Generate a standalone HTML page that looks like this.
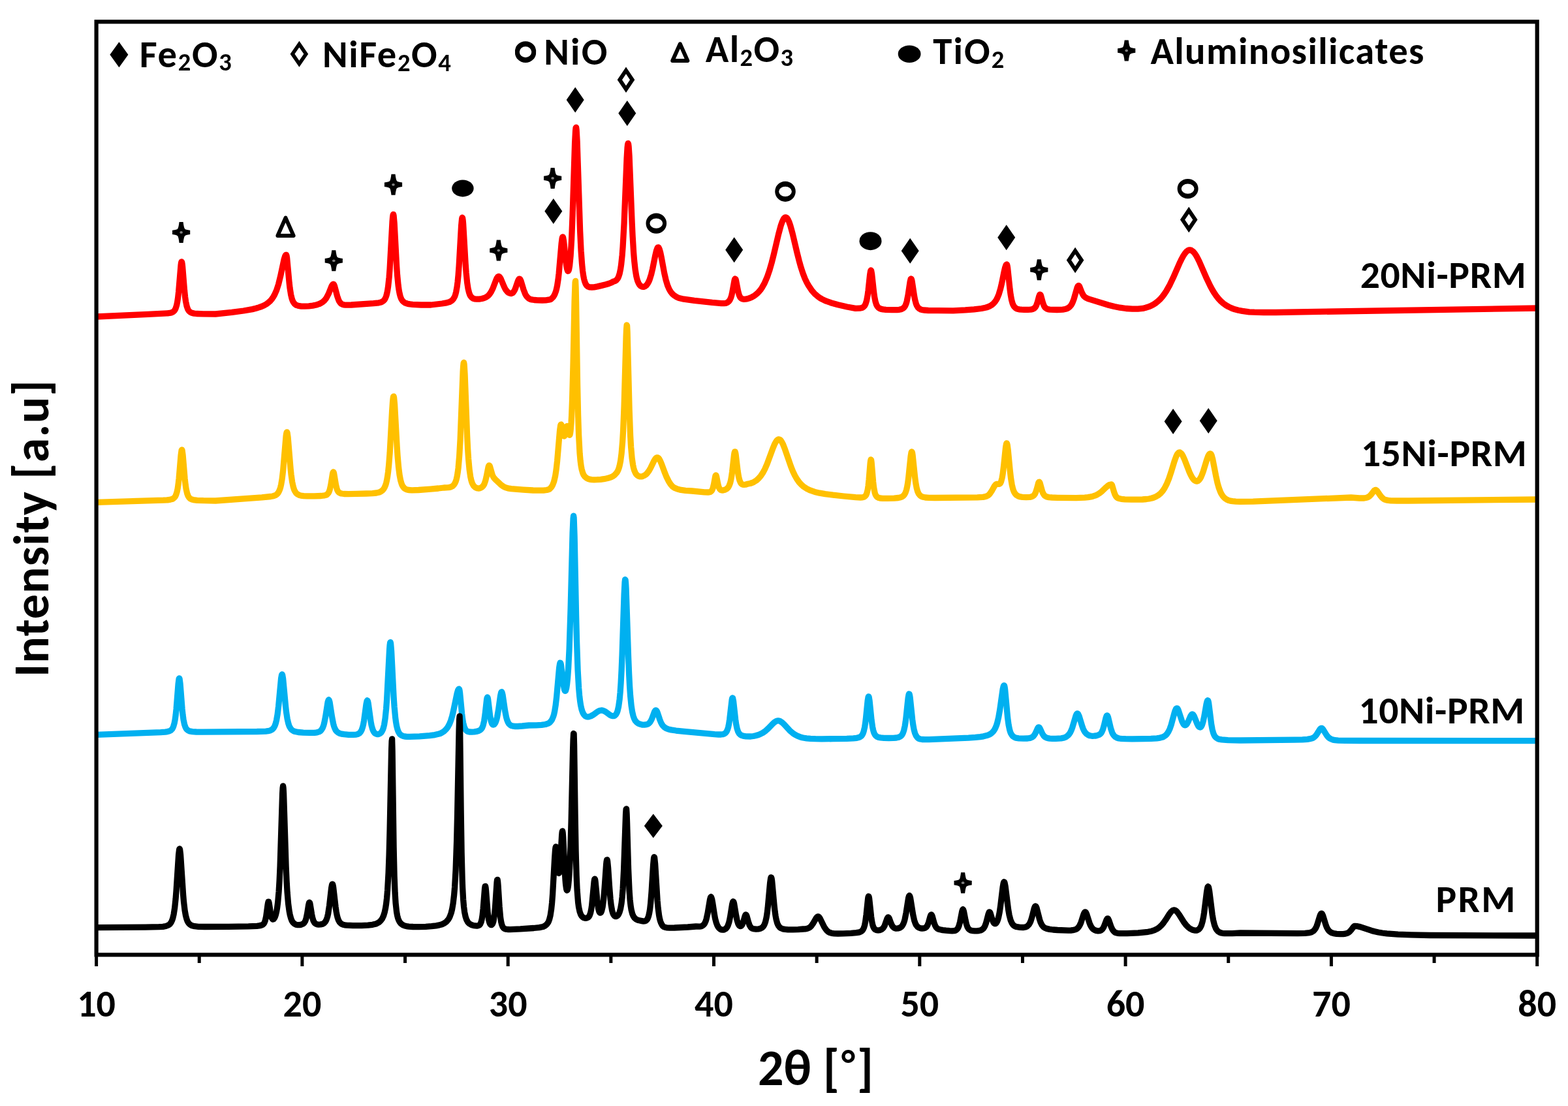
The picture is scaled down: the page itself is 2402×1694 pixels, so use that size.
<!DOCTYPE html>
<html><head><meta charset="utf-8"><title>XRD patterns</title>
<style>
html,body{margin:0;padding:0;background:#fff;}
svg{display:block;}
text{font-family:Carlito,"Liberation Sans","DejaVu Sans",sans-serif;font-weight:bold;fill:#000;}
.curves path{fill:none;stroke-width:9.3;stroke-linejoin:round;stroke-linecap:butt;}
.fd{fill:#000;}
.od{fill:none;stroke:#000;stroke-width:6;stroke-linejoin:miter;stroke-miterlimit:10;}
.tr{fill:none;stroke:#000;stroke-width:7;stroke-linejoin:round;}
.oc{fill:#000;fill-rule:evenodd;}
</style></head>
<body>
<svg xmlns="http://www.w3.org/2000/svg" width="2402" height="1694" viewBox="0 0 2402 1694">
<defs>
<g id="star"><path d="M-3 -16L3 -16Q4.2 -6.5 5.5 -5.5Q6.5 -4.2 13.6 -3.2L13.6 3.2Q6.5 4.2 5.5 5.5Q4.2 6.5 3 16L-3 16Q-4.2 6.5 -5.5 5.5Q-6.5 4.2 -13.6 3.2L-13.6 -3.2Q-6.5 -4.2 -5.5 -5.5Q-4.2 -6.5 -3 -16Z" fill="#000"/><ellipse rx="2.3" ry="1.9" fill="#808080"/></g>
</defs>
<rect x="0" y="0" width="2402" height="1694" fill="#fff"/>
<g class="curves">
<path d="M147.6 485.0L226.6 481.4 256.6 479.8 261.6 479.2 263.6 478.5 265.1 477.7 267.1 475.9 268.1 474.4 269.1 472.4 270.6 467.7 271.6 462.9 272.6 456.2 273.6 447.2 277.1 405.6 277.6 402.3 278.1 400.9 278.6 401.5 279.1 404.1 279.6 408.4 282.6 445.3 283.6 454.8 284.6 461.9 286.1 469.0 287.6 473.3 288.6 475.2 289.6 476.5 291.6 478.2 293.1 479.0 295.1 479.6 297.6 480.1 301.1 480.5 311.6 480.8 330.1 481.0 355.1 478.4 373.1 476.0 386.6 473.6 392.1 472.3 396.6 470.9 400.6 469.5 404.6 467.7 408.1 465.7 411.1 463.5 413.6 461.3 416.1 458.5 418.6 454.9 420.6 451.4 423.6 444.6 426.6 435.4 429.6 423.2 435.1 397.4 436.6 392.6 437.6 390.8 438.1 390.3 438.6 390.4 439.1 391.9 439.6 395.0 443.1 432.9 444.1 441.6 445.6 451.1 447.1 457.3 448.1 460.2 449.1 462.3 451.1 465.2 452.6 466.5 454.1 467.4 457.1 468.4 461.6 469.1 466.6 469.2 473.1 468.8 479.1 468.1 484.6 467.0 488.6 465.7 492.1 464.0 494.6 462.3 496.6 460.6 498.6 458.3 500.1 456.1 503.1 450.4 508.1 438.1 509.6 435.8 510.6 435.2 511.1 435.4 511.6 436.0 512.6 438.4 516.6 453.5 518.6 459.3 519.6 461.4 521.1 463.6 522.6 465.1 524.6 466.2 526.6 466.8 529.6 467.2 538.1 467.0 572.1 464.7 580.1 463.8 583.6 463.0 585.6 462.1 587.6 460.6 589.1 458.9 590.6 456.2 591.6 453.6 592.6 450.1 593.6 445.3 594.6 438.8 596.1 424.7 597.1 411.5 601.1 338.6 601.6 332.7 602.1 329.1 602.6 328.3 603.1 330.3 604.1 341.6 607.6 407.3 608.6 421.5 610.1 437.0 611.1 444.2 612.1 449.5 613.1 453.4 614.1 456.3 615.1 458.5 616.6 460.8 618.1 462.3 620.1 463.7 622.1 464.6 624.6 465.3 628.1 465.9 632.1 466.3 645.1 467.0 660.1 467.0 677.1 465.0 682.1 464.2 685.6 463.4 688.6 462.5 691.1 461.2 693.1 459.6 694.6 457.8 696.6 454.1 697.6 451.3 698.6 447.6 700.1 439.4 701.1 431.5 702.1 421.1 703.1 407.7 706.6 345.8 707.6 335.1 708.1 333.2 708.6 333.9 709.1 337.2 709.6 342.7 713.1 403.5 714.1 417.4 715.6 432.5 717.1 442.2 718.6 448.3 719.6 451.1 720.6 453.1 722.6 455.7 724.6 457.0 727.1 457.9 730.1 458.2 734.1 458.1 738.1 457.5 741.6 456.5 744.6 455.2 747.1 453.5 748.6 452.1 750.1 450.4 752.6 446.6 755.1 441.4 759.6 429.6 761.1 426.2 762.6 424.0 763.6 423.4 764.1 423.4 764.6 423.5 765.6 424.4 767.1 426.8 772.1 438.7 773.6 441.8 775.1 444.3 777.6 447.3 779.1 448.4 780.6 449.1 782.6 449.6 784.1 449.3 785.6 448.4 787.1 446.6 788.6 443.9 789.6 441.5 793.1 431.2 794.1 428.8 795.1 427.3 795.6 427.1 796.1 427.1 797.1 428.3 798.1 430.5 802.1 443.9 804.6 450.3 805.6 452.2 807.1 454.3 808.6 455.9 810.1 457.1 812.1 458.2 814.6 458.9 818.6 459.5 823.6 459.9 830.6 460.0 836.1 459.8 840.6 459.2 843.6 458.4 845.1 457.3 847.1 455.3 848.6 453.1 849.6 451.3 851.6 446.1 852.6 442.3 853.6 437.5 855.1 427.7 856.1 419.0 860.1 373.1 861.1 365.3 861.6 363.4 862.1 362.8 862.6 363.7 863.6 369.3 866.6 398.5 867.6 406.4 868.6 411.9 869.6 414.9 870.1 415.3 870.6 415.1 871.1 414.2 871.6 412.6 872.6 407.0 874.1 391.8 875.6 366.5 877.1 329.3 880.6 219.2 881.6 200.0 882.1 195.6 882.6 195.2 883.1 198.7 884.1 216.6 888.6 353.3 890.1 384.3 891.6 405.1 892.6 414.8 893.6 421.9 894.6 427.1 895.6 430.9 897.1 434.8 898.6 437.2 900.6 438.9 903.1 439.8 906.6 440.0 910.1 439.8 915.1 438.9 921.6 437.4 928.1 435.8 933.1 434.2 937.1 432.6 940.1 430.9 942.1 430.4 944.1 429.2 946.1 426.8 947.6 423.8 949.1 419.2 950.6 412.1 951.6 405.4 953.1 391.2 954.1 378.2 956.1 341.7 960.1 242.7 961.1 226.1 961.6 221.5 962.1 219.6 962.6 220.6 963.1 224.4 964.1 239.6 968.1 340.2 969.1 361.5 970.6 386.5 971.6 399.0 973.1 412.8 974.6 422.1 975.6 426.5 976.6 429.9 978.1 433.6 979.6 436.1 981.6 438.1 983.6 439.1 984.6 439.3 986.1 439.3 988.1 438.6 990.1 437.1 992.1 434.5 993.6 431.8 995.1 428.3 997.6 420.4 999.6 412.0 1003.6 392.1 1005.6 383.6 1007.1 379.8 1007.6 379.1 1008.1 378.8 1008.6 378.9 1009.1 379.4 1010.1 381.3 1011.6 386.5 1013.1 393.7 1017.6 418.0 1020.1 428.9 1022.6 437.1 1025.1 443.0 1027.1 446.4 1029.1 449.1 1031.1 451.1 1033.6 453.1 1036.6 454.9 1040.1 456.4 1047.6 458.2 1063.6 460.4 1091.1 463.4 1105.1 464.6 1109.1 464.6 1112.1 464.4 1114.6 463.1 1116.6 461.4 1118.1 459.4 1119.6 456.1 1120.6 452.9 1121.6 448.7 1125.1 429.3 1125.6 427.7 1126.1 427.0 1126.6 427.2 1127.1 428.2 1127.6 430.0 1130.6 445.8 1132.1 451.4 1133.6 454.8 1134.6 456.2 1135.6 457.0 1137.6 458.0 1139.6 458.3 1142.1 458.2 1145.1 457.6 1148.6 456.5 1152.1 454.9 1155.1 453.2 1158.1 451.0 1160.6 448.9 1162.6 446.8 1165.1 443.8 1167.1 440.9 1171.1 433.9 1175.1 424.7 1178.6 414.6 1182.1 402.5 1185.6 388.7 1192.6 358.8 1196.1 345.7 1198.1 339.9 1200.1 335.7 1201.1 334.3 1202.1 333.3 1203.1 332.9 1203.6 332.9 1205.1 333.5 1206.1 334.6 1207.1 336.2 1208.6 339.4 1210.6 345.1 1214.1 357.8 1221.1 387.4 1224.1 399.2 1227.1 409.9 1230.1 419.0 1233.1 426.7 1236.1 433.0 1238.6 437.4 1243.6 444.9 1248.1 450.0 1253.1 454.3 1256.1 456.4 1259.1 458.1 1265.6 461.2 1273.6 464.0 1283.6 466.8 1297.6 470.0 1310.6 472.4 1317.1 472.2 1319.1 471.8 1321.1 471.2 1322.6 470.3 1324.1 468.8 1325.1 467.3 1326.1 465.2 1327.6 460.3 1329.1 452.2 1330.1 444.6 1332.6 421.1 1333.6 415.0 1334.1 414.0 1334.6 414.5 1335.6 419.7 1338.6 447.4 1339.6 454.6 1341.1 462.1 1342.6 466.7 1344.1 469.4 1346.1 471.6 1347.6 472.5 1349.1 473.1 1352.6 473.9 1357.1 474.4 1366.1 474.7 1374.1 474.6 1377.6 474.3 1380.6 473.6 1382.6 472.8 1384.6 471.3 1386.1 469.4 1387.1 467.6 1388.1 465.1 1389.1 461.7 1391.1 451.7 1394.1 431.6 1395.1 427.6 1395.6 427.0 1396.1 427.3 1396.6 428.5 1397.1 430.6 1400.6 453.7 1401.6 458.9 1403.1 464.7 1404.6 468.4 1406.1 470.8 1408.1 472.7 1410.6 474.0 1412.6 474.6 1415.1 475.0 1422.1 475.5 1436.6 475.7 1460.1 475.8 1478.6 474.9 1492.1 473.9 1503.6 472.5 1510.6 471.0 1513.6 470.0 1516.1 468.9 1518.6 467.5 1520.6 466.0 1522.6 464.1 1524.6 461.7 1526.1 459.5 1527.6 456.7 1530.1 450.7 1532.6 442.4 1534.6 433.9 1538.1 416.5 1539.6 410.1 1541.1 405.9 1541.6 405.2 1542.1 405.0 1542.6 405.4 1543.1 407.2 1543.6 410.2 1547.1 443.4 1548.1 451.0 1549.6 459.3 1551.1 464.7 1552.1 467.1 1553.1 468.9 1554.1 470.2 1555.6 471.6 1557.1 472.6 1558.6 473.2 1561.1 473.8 1564.6 474.2 1569.1 474.4 1574.6 474.4 1578.1 474.2 1580.6 473.8 1582.6 473.2 1584.1 472.4 1586.1 470.4 1587.6 467.7 1589.1 463.6 1591.6 454.2 1592.6 451.6 1593.1 451.1 1593.6 451.2 1594.1 451.8 1594.6 453.0 1597.6 463.9 1599.1 468.0 1600.1 469.8 1601.1 471.1 1603.1 472.7 1605.1 473.6 1608.1 474.1 1619.1 474.5 1624.1 474.4 1628.1 474.1 1631.6 473.5 1634.1 472.8 1636.6 471.5 1638.6 470.0 1640.6 467.7 1642.1 465.3 1643.6 462.0 1645.1 457.9 1650.1 440.5 1651.1 438.4 1651.6 437.7 1652.1 437.5 1652.6 437.6 1653.6 438.8 1657.6 448.9 1659.6 452.4 1661.1 454.2 1662.6 455.4 1664.6 456.6 1667.6 457.9 1698.1 467.2 1707.1 469.5 1715.6 471.2 1725.1 472.5 1734.6 473.2 1743.1 473.1 1750.6 472.4 1755.1 471.3 1759.6 469.9 1763.6 468.2 1767.1 466.3 1770.6 464.0 1774.1 461.2 1777.6 457.8 1780.6 454.4 1783.6 450.4 1786.6 445.9 1792.1 436.1 1797.1 425.6 1807.6 401.7 1810.1 396.6 1812.6 392.0 1815.1 388.2 1817.6 385.3 1820.1 383.5 1821.6 383.0 1822.6 382.9 1823.6 382.9 1825.1 383.4 1827.6 385.2 1830.1 388.0 1832.6 391.8 1835.1 396.4 1837.6 401.6 1848.6 426.8 1854.1 438.2 1857.1 443.8 1860.1 448.7 1863.1 453.1 1866.6 457.5 1870.1 461.2 1874.1 464.8 1878.1 467.6 1882.1 469.9 1886.6 472.0 1891.6 473.8 1897.1 475.3 1903.1 476.4 1913.6 477.8 1921.6 478.2 1935.6 478.5 1954.1 478.5 2354.6 472.0" stroke="#FF0000"/>
<path d="M147.6 769.3L250.1 766.2 256.6 765.8 261.1 765.1 263.6 764.5 265.6 763.5 267.6 761.6 268.6 760.2 269.6 758.1 271.1 753.4 272.1 748.6 273.1 741.9 274.1 732.9 277.1 697.1 278.1 689.8 278.6 688.9 279.1 689.9 280.1 697.2 283.1 733.0 284.1 742.0 285.1 748.7 286.6 755.5 288.1 759.5 289.1 761.3 290.1 762.5 291.1 763.5 292.6 764.4 294.1 765.1 296.1 765.6 302.1 766.3 311.6 766.7 330.1 767.0 401.1 761.9 414.6 760.5 417.6 760.0 420.1 759.3 422.1 758.4 423.6 757.5 425.1 756.1 426.6 754.1 427.6 752.2 428.6 749.8 429.6 746.6 430.6 742.5 432.1 733.8 433.6 721.1 438.1 668.0 438.6 664.5 439.1 662.4 439.6 661.9 440.1 663.0 441.1 669.7 445.1 717.8 446.1 727.3 447.6 737.9 449.1 745.1 450.1 748.5 451.1 751.1 453.1 754.5 454.1 755.7 455.6 756.9 458.1 758.2 461.1 759.1 465.1 759.6 470.1 759.8 481.6 759.8 492.1 759.5 497.1 758.9 500.1 758.0 501.6 756.8 503.1 755.0 504.1 753.1 505.1 750.3 506.6 743.9 509.6 725.3 510.1 723.6 510.6 722.9 511.1 723.5 511.6 725.1 514.6 742.9 516.1 748.9 517.1 751.4 518.1 753.1 519.1 754.2 520.6 755.1 523.1 756.0 527.1 756.5 533.6 756.6 545.6 756.4 561.1 756.0 570.6 755.6 576.6 755.0 581.1 754.0 583.6 752.8 585.6 751.3 587.6 749.1 589.1 746.6 590.6 743.1 591.6 739.8 592.6 735.5 593.6 729.9 594.6 722.6 595.6 713.1 597.1 693.9 600.6 629.9 601.6 615.0 602.1 610.1 602.6 607.4 603.1 607.1 603.6 609.2 604.6 619.9 608.1 683.4 609.1 698.6 610.6 715.9 612.1 727.7 613.6 735.6 615.1 740.7 616.1 743.2 617.1 745.0 619.1 747.5 620.6 748.7 622.1 749.5 624.1 750.1 626.1 750.5 631.1 750.9 641.1 750.5 659.6 749.1 671.6 748.0 680.1 747.0 686.6 746.7 689.1 746.3 691.1 745.7 693.1 744.7 695.1 742.9 696.6 740.7 698.1 737.5 699.1 734.3 700.1 730.1 701.1 724.3 702.1 716.5 703.6 699.2 705.1 673.0 709.1 569.8 709.6 561.4 710.1 556.4 710.6 555.2 711.1 558.0 712.1 574.1 715.6 667.0 716.6 687.2 717.6 702.8 719.1 719.2 720.6 729.7 721.6 734.4 722.6 738.0 723.6 740.6 725.1 743.4 726.6 745.2 728.6 746.8 730.6 747.6 732.6 748.0 734.6 747.8 736.6 747.1 738.6 745.8 740.1 744.2 741.1 742.8 742.1 740.8 743.6 736.5 745.1 730.3 748.1 715.2 748.6 713.7 749.1 712.9 749.6 712.9 750.1 713.5 750.6 714.7 754.1 727.0 755.1 729.4 756.6 731.9 759.1 734.7 767.1 742.2 770.6 744.8 774.1 746.6 778.1 747.8 783.1 748.6 801.6 750.1 816.6 751.0 826.1 751.2 832.6 751.1 837.6 750.5 841.1 749.5 842.1 748.9 844.1 746.8 845.6 744.7 846.6 742.8 848.6 737.6 850.6 729.1 852.1 719.4 853.6 705.9 857.6 658.9 858.6 652.0 859.1 650.4 859.6 650.1 860.1 650.9 861.1 655.3 863.1 666.0 863.6 667.5 864.1 668.1 864.6 667.9 865.1 666.7 867.1 656.7 868.1 653.1 868.6 652.7 869.1 653.3 869.6 655.0 871.6 664.7 872.1 666.0 872.6 666.4 873.1 665.5 873.6 663.2 874.1 659.4 875.1 646.6 875.6 637.3 876.6 611.9 878.1 555.0 880.1 460.7 881.1 432.6 881.6 430.3 882.1 441.1 882.6 464.6 884.6 590.5 885.6 635.8 886.6 666.5 888.1 694.4 889.1 705.6 890.1 713.3 891.1 718.7 892.6 724.1 894.1 727.5 896.1 730.2 899.1 732.6 901.1 733.5 903.1 734.1 906.1 734.6 910.1 734.8 914.6 734.7 920.1 734.3 925.1 733.7 929.6 732.8 933.6 731.8 936.6 730.6 938.6 729.6 940.6 728.2 942.1 726.9 944.6 724.2 946.1 721.8 947.1 719.6 948.1 716.9 949.1 713.4 950.6 706.0 952.1 694.7 953.6 677.0 954.6 659.7 956.1 622.2 959.1 515.5 959.6 503.8 960.1 497.9 960.6 499.0 961.1 508.3 964.1 626.9 965.6 667.2 966.6 684.6 968.1 701.7 969.6 712.0 970.6 716.7 971.6 720.2 973.1 723.8 974.6 726.3 976.1 727.9 978.1 729.3 980.1 729.9 982.6 729.9 984.6 729.4 987.6 728.0 989.6 726.6 991.1 725.1 994.1 721.2 996.6 716.8 1001.6 706.5 1003.6 703.2 1004.6 701.9 1005.6 701.1 1006.6 700.8 1007.6 700.9 1008.6 701.5 1009.6 702.6 1011.6 706.2 1013.6 711.0 1018.6 724.6 1021.1 730.7 1024.1 736.7 1027.1 741.5 1030.1 745.1 1033.1 747.1 1037.6 749.0 1043.1 750.4 1050.1 751.4 1060.1 752.0 1079.1 753.9 1084.6 754.0 1086.6 753.8 1088.1 753.4 1089.1 752.8 1090.1 751.9 1091.1 750.2 1092.1 747.6 1093.6 741.3 1095.6 730.3 1096.1 728.5 1096.6 727.9 1097.1 728.4 1097.6 729.9 1099.6 740.3 1100.6 744.5 1101.6 747.3 1102.6 749.1 1104.1 750.4 1105.1 750.8 1106.6 751.0 1108.1 750.9 1110.1 750.3 1113.1 748.8 1115.1 747.0 1116.1 745.6 1117.1 743.7 1118.6 739.6 1119.6 735.5 1120.6 729.9 1121.6 722.6 1124.6 696.1 1125.1 693.4 1125.6 692.0 1126.1 692.0 1126.6 693.5 1127.1 696.1 1130.1 721.3 1131.6 730.5 1133.1 736.2 1134.6 739.5 1135.6 740.8 1137.1 741.9 1138.6 742.4 1140.1 742.4 1142.1 742.2 1145.1 741.3 1149.1 740.5 1152.1 739.5 1154.6 738.4 1158.6 735.9 1162.1 732.8 1165.6 728.7 1168.6 724.2 1171.6 718.6 1175.1 710.6 1183.6 687.6 1186.6 680.3 1188.6 676.6 1190.1 674.5 1191.6 673.2 1193.1 672.8 1194.6 673.3 1196.1 674.6 1197.6 676.8 1199.6 680.7 1202.6 688.4 1211.6 714.5 1214.6 721.9 1217.6 728.2 1220.6 733.5 1224.1 738.5 1227.6 742.3 1231.1 745.4 1236.1 748.6 1241.6 751.2 1248.1 753.4 1255.6 755.2 1264.1 756.6 1276.1 758.2 1292.6 760.0 1310.6 761.6 1318.6 762.0 1320.6 761.9 1322.6 761.5 1324.1 760.9 1325.6 759.7 1326.6 758.4 1327.6 756.3 1329.1 750.6 1330.1 744.1 1331.1 734.5 1333.1 709.9 1333.6 705.7 1334.1 703.9 1334.6 704.7 1335.1 708.1 1337.6 738.0 1338.6 746.7 1340.1 754.6 1341.1 757.6 1342.6 760.1 1343.6 761.2 1344.6 761.8 1346.1 762.5 1348.1 763.0 1352.1 763.3 1359.1 763.4 1369.6 763.1 1376.1 762.5 1378.6 762.0 1380.6 761.4 1382.1 760.7 1383.6 759.7 1385.6 757.4 1387.1 754.6 1388.6 750.1 1389.6 745.8 1390.6 740.1 1391.6 732.7 1395.1 698.8 1396.1 692.9 1396.6 691.9 1397.1 692.3 1397.6 694.1 1398.1 697.2 1401.6 730.9 1402.6 738.6 1404.1 747.0 1405.6 752.5 1407.1 755.9 1409.1 758.6 1411.1 760.2 1414.1 761.3 1417.6 762.0 1423.1 762.3 1432.1 762.5 1497.1 761.9 1505.6 761.4 1508.6 760.9 1510.6 760.3 1513.6 758.8 1515.1 757.6 1516.6 755.9 1519.1 752.2 1523.1 744.9 1525.1 742.3 1526.1 741.6 1527.1 741.3 1530.1 741.4 1531.1 741.2 1532.1 740.5 1532.6 739.8 1533.6 737.6 1535.1 731.9 1536.1 726.0 1537.6 713.7 1540.6 684.9 1541.6 679.6 1542.1 678.8 1542.6 679.4 1543.1 681.2 1544.1 688.3 1547.1 719.7 1548.6 732.7 1550.1 742.1 1551.6 748.5 1552.6 751.5 1553.6 753.8 1555.1 756.2 1556.6 757.9 1558.6 759.3 1560.6 760.2 1563.1 760.9 1566.1 761.3 1572.1 761.6 1577.6 761.4 1581.1 760.5 1582.6 759.7 1583.6 758.9 1585.1 757.1 1586.6 754.0 1588.1 749.4 1590.6 740.1 1591.1 738.9 1591.6 738.3 1592.1 738.2 1592.6 738.7 1593.1 739.8 1596.6 752.4 1597.6 755.0 1598.6 756.9 1600.1 758.9 1601.6 760.0 1603.6 760.9 1606.6 761.6 1611.6 762.0 1620.1 762.3 1648.6 762.7 1661.6 762.2 1666.6 761.7 1671.1 760.9 1674.1 760.2 1677.1 759.2 1680.1 757.9 1682.6 756.5 1685.1 754.8 1687.6 752.8 1694.6 746.2 1697.1 744.1 1699.6 742.6 1702.1 742.0 1702.6 742.0 1703.1 742.4 1703.6 743.3 1706.6 753.6 1707.6 756.5 1708.6 758.7 1709.6 760.4 1711.1 762.0 1712.6 762.9 1714.1 763.5 1717.6 764.3 1723.1 764.8 1733.1 765.1 1743.1 765.2 1750.1 765.0 1756.1 764.5 1760.1 764.0 1764.6 763.0 1767.6 762.0 1770.6 760.7 1773.1 759.3 1775.6 757.6 1778.1 755.4 1780.1 753.2 1782.1 750.6 1784.1 747.5 1787.6 740.6 1790.6 733.2 1793.6 724.3 1799.1 706.4 1801.6 699.5 1803.1 696.3 1804.1 694.7 1805.6 693.2 1806.6 692.9 1807.6 693.0 1809.1 694.0 1810.6 695.8 1812.1 698.4 1814.6 703.9 1822.1 723.2 1824.1 727.5 1826.1 731.2 1828.1 734.0 1829.6 735.6 1831.6 736.8 1833.1 737.1 1834.1 737.0 1835.1 736.6 1836.6 735.4 1838.1 733.5 1839.6 731.0 1841.1 727.7 1843.1 722.3 1848.6 704.4 1850.6 698.9 1851.6 696.9 1852.6 695.5 1853.6 694.8 1854.6 695.0 1855.1 695.5 1856.1 697.6 1857.6 703.0 1862.6 728.7 1865.1 740.0 1867.1 747.0 1869.6 753.6 1871.1 756.6 1873.1 759.7 1875.1 762.0 1877.1 763.7 1879.6 765.3 1881.6 766.2 1884.6 767.1 1888.1 767.7 1893.1 768.2 1899.6 768.4 1919.6 768.1 2069.6 762.0 2082.6 763.0 2089.6 763.0 2093.6 762.2 2095.6 761.5 2097.1 760.6 2098.6 759.4 2100.1 757.8 2105.1 751.4 2106.1 750.7 2107.1 750.3 2108.1 750.6 2109.6 751.8 2115.1 759.8 2117.1 762.1 2119.1 763.8 2121.1 765.1 2123.6 765.9 2126.6 766.4 2130.6 766.8 2140.1 767.0 2158.1 767.0 2354.6 765.0" stroke="#FFC000"/>
<path d="M147.6 1125.3L246.1 1121.6 253.1 1121.1 256.6 1120.6 259.6 1119.8 261.6 1118.7 263.6 1116.7 264.6 1115.1 265.6 1112.9 267.1 1107.8 268.1 1102.6 269.1 1095.5 270.1 1085.9 273.1 1047.7 274.1 1039.9 274.6 1038.9 275.1 1039.9 276.1 1047.7 279.1 1085.9 280.1 1095.4 281.1 1102.5 282.6 1109.7 284.1 1113.9 285.1 1115.8 286.1 1117.1 288.1 1118.8 290.6 1119.9 294.6 1120.6 300.6 1121.0 310.1 1121.1 393.6 1120.5 407.1 1120.1 410.6 1119.7 413.6 1119.0 415.6 1118.1 417.1 1117.1 418.6 1115.6 419.6 1114.3 420.6 1112.5 421.6 1110.1 422.6 1107.0 423.6 1102.9 425.1 1094.3 426.6 1082.0 430.6 1039.1 431.6 1033.6 432.1 1032.9 432.6 1033.6 433.6 1039.2 437.6 1082.3 438.6 1091.0 440.1 1100.8 441.6 1107.5 442.6 1110.7 443.6 1113.1 445.6 1116.4 447.1 1118.0 448.6 1119.0 450.1 1119.8 452.1 1120.5 457.1 1121.5 464.6 1122.1 474.6 1122.4 481.6 1122.3 485.6 1121.8 488.6 1120.9 491.1 1119.4 492.6 1117.7 494.1 1115.2 495.6 1111.4 496.6 1107.8 498.6 1097.7 502.1 1075.5 503.1 1072.3 503.6 1071.9 504.1 1072.3 505.1 1075.6 508.6 1098.2 510.6 1108.5 511.6 1112.2 512.6 1115.0 514.1 1118.1 515.6 1120.1 517.6 1121.9 520.1 1123.2 523.1 1124.1 527.1 1124.7 534.1 1125.3 541.1 1125.4 545.6 1125.1 548.6 1124.2 550.6 1123.0 552.6 1120.8 554.1 1118.0 555.6 1113.5 556.6 1109.3 557.6 1103.7 561.1 1078.0 562.1 1073.6 562.6 1072.9 563.1 1073.2 563.6 1074.6 564.1 1077.0 568.1 1105.8 569.1 1111.0 570.6 1116.6 571.6 1119.1 572.6 1120.9 573.6 1122.3 574.6 1123.2 576.1 1124.1 577.6 1124.5 579.1 1124.6 580.6 1124.3 582.6 1123.2 584.1 1121.8 585.6 1119.4 586.6 1117.2 587.6 1114.0 588.6 1109.8 590.1 1100.3 591.6 1085.4 592.6 1071.5 596.6 994.5 597.1 988.2 597.6 984.5 598.1 983.6 598.6 985.7 599.6 997.7 603.1 1067.2 604.1 1082.3 605.6 1098.7 606.6 1106.3 607.6 1111.9 608.6 1116.0 609.6 1119.1 610.6 1121.4 612.1 1123.9 613.6 1125.4 615.6 1126.7 617.6 1127.4 620.1 1128.0 623.6 1128.3 627.6 1128.4 642.6 1127.9 658.1 1126.7 666.1 1125.6 672.6 1124.0 675.1 1123.2 676.6 1122.4 680.6 1119.8 683.6 1116.8 686.1 1113.4 688.6 1108.7 690.6 1103.6 692.6 1097.0 694.1 1091.0 700.1 1062.1 701.6 1057.2 702.6 1055.5 703.1 1055.2 703.6 1055.7 704.1 1057.9 704.6 1061.5 707.6 1093.0 708.6 1101.1 709.6 1107.1 711.1 1113.1 712.6 1116.6 713.6 1118.1 714.6 1119.2 716.6 1120.4 719.1 1121.0 722.6 1121.2 726.6 1120.9 731.1 1120.1 733.6 1119.3 735.6 1118.2 737.1 1116.8 738.6 1114.7 740.1 1110.9 741.6 1104.5 743.1 1093.9 745.6 1071.5 746.1 1069.0 746.6 1068.0 747.1 1068.8 747.6 1071.0 750.6 1095.8 752.1 1104.0 753.1 1107.2 753.6 1108.3 754.6 1109.6 755.1 1109.9 756.1 1110.0 756.6 1109.8 757.6 1109.0 758.6 1107.5 759.6 1105.3 760.6 1102.3 761.6 1098.3 763.6 1086.8 766.6 1065.5 767.6 1061.0 768.1 1059.9 768.6 1059.8 769.1 1060.6 770.1 1064.6 773.6 1088.5 775.6 1098.8 776.6 1102.3 778.1 1106.1 779.6 1108.6 781.6 1110.5 783.6 1111.6 786.1 1112.2 789.1 1112.5 793.1 1112.5 800.1 1112.0 810.1 1111.0 821.6 1110.8 829.6 1110.4 835.6 1109.5 839.6 1108.2 841.6 1107.0 843.1 1105.6 844.6 1103.8 845.6 1102.2 847.6 1097.5 848.6 1094.1 849.6 1089.7 851.1 1080.6 852.6 1067.9 856.6 1023.0 857.6 1016.6 858.1 1015.2 858.6 1015.3 859.1 1016.7 859.6 1019.2 863.1 1048.5 864.6 1056.4 865.1 1057.7 865.6 1058.4 866.1 1058.4 866.6 1057.7 867.6 1054.3 868.6 1047.9 869.6 1038.0 870.6 1024.2 872.1 994.1 874.1 932.6 877.1 816.3 878.1 793.9 878.6 790.1 879.1 792.8 880.1 821.4 882.6 943.9 883.6 984.0 885.1 1026.6 886.6 1053.3 887.6 1065.2 888.6 1073.8 889.6 1080.2 891.1 1086.9 892.6 1091.2 893.6 1093.2 894.6 1094.7 896.6 1096.7 897.6 1097.3 899.1 1097.8 900.6 1098.0 902.1 1097.8 905.1 1096.9 908.6 1094.9 914.1 1090.9 916.6 1089.3 919.1 1088.3 921.1 1088.0 923.1 1088.2 925.6 1089.1 928.1 1090.6 933.6 1094.6 936.1 1096.0 938.1 1096.6 940.1 1096.7 941.1 1096.4 942.1 1095.8 943.6 1094.3 945.1 1091.6 946.1 1088.7 947.6 1082.1 949.1 1071.3 950.1 1060.6 951.1 1046.0 952.1 1026.7 953.1 1002.0 956.1 910.9 957.1 891.5 957.6 887.7 958.1 888.2 958.6 893.2 959.1 902.1 962.6 1006.9 963.6 1031.6 964.6 1050.9 965.6 1065.5 967.1 1080.7 968.6 1090.4 970.1 1096.7 971.6 1100.9 973.1 1103.7 975.1 1106.1 977.1 1107.7 980.1 1109.1 983.6 1110.0 987.1 1110.2 990.6 1109.7 992.1 1109.2 993.6 1108.3 995.1 1106.9 996.1 1105.6 997.6 1103.0 998.6 1100.8 1002.6 1090.2 1003.6 1088.5 1004.1 1088.0 1004.6 1087.8 1005.1 1088.0 1006.1 1089.1 1007.1 1091.2 1010.6 1101.8 1012.1 1105.7 1013.6 1108.8 1015.1 1111.1 1017.6 1113.7 1020.1 1115.4 1024.1 1117.0 1028.1 1117.9 1035.6 1119.0 1048.1 1120.3 1094.6 1124.7 1100.6 1125.0 1104.6 1125.0 1107.6 1124.6 1109.6 1123.9 1111.6 1122.5 1113.1 1120.5 1114.6 1117.2 1115.6 1113.8 1116.6 1109.0 1117.6 1102.4 1121.1 1072.2 1121.6 1069.8 1122.1 1068.8 1122.6 1069.3 1123.6 1074.4 1126.6 1101.6 1127.6 1108.6 1129.1 1116.0 1130.6 1120.5 1132.1 1123.2 1134.1 1125.3 1135.6 1126.2 1137.1 1126.8 1139.6 1127.4 1142.6 1127.8 1150.1 1128.0 1154.1 1127.5 1157.6 1126.8 1161.1 1125.8 1164.1 1124.7 1168.6 1122.4 1173.1 1119.2 1177.1 1115.5 1184.1 1108.3 1186.6 1106.1 1188.1 1105.1 1189.6 1104.3 1192.1 1103.8 1193.6 1104.0 1195.1 1104.6 1198.1 1106.6 1201.1 1109.4 1209.6 1118.7 1212.6 1121.4 1215.6 1123.7 1218.6 1125.6 1222.1 1127.4 1226.1 1128.9 1230.1 1130.0 1235.6 1130.8 1241.6 1131.4 1249.1 1131.7 1258.6 1131.8 1276.1 1131.7 1297.1 1131.3 1307.1 1130.8 1312.6 1130.3 1316.6 1129.2 1318.1 1128.4 1319.1 1127.6 1320.1 1126.6 1321.1 1125.1 1322.1 1123.1 1323.1 1120.3 1324.6 1113.7 1325.6 1107.2 1326.6 1098.8 1329.1 1073.6 1330.1 1067.6 1330.6 1066.8 1331.1 1067.6 1332.1 1073.6 1335.1 1103.2 1336.6 1113.5 1337.6 1118.2 1338.6 1121.6 1339.6 1124.0 1340.6 1125.7 1342.1 1127.3 1343.6 1128.4 1346.1 1129.4 1349.1 1129.9 1354.1 1130.4 1361.6 1130.5 1368.6 1130.4 1373.1 1130.0 1375.6 1129.5 1377.6 1128.8 1379.1 1128.1 1380.6 1126.9 1381.6 1125.7 1382.6 1124.1 1383.6 1121.9 1384.6 1118.9 1386.1 1112.3 1387.1 1106.0 1388.1 1098.0 1391.1 1069.4 1392.1 1063.7 1392.6 1062.8 1393.1 1063.2 1393.6 1065.1 1394.1 1068.1 1397.6 1101.5 1398.6 1109.1 1400.1 1117.5 1401.6 1123.0 1403.1 1126.5 1405.1 1129.4 1407.1 1131.1 1409.6 1132.0 1412.6 1132.5 1417.1 1132.7 1423.1 1132.7 1483.6 1130.1 1494.1 1129.4 1501.6 1128.6 1506.6 1127.8 1511.6 1126.6 1514.6 1125.5 1517.1 1124.3 1519.6 1122.4 1521.6 1120.3 1523.6 1117.4 1525.1 1114.4 1526.6 1110.5 1527.6 1107.3 1529.6 1099.0 1531.6 1087.6 1536.1 1055.9 1537.1 1051.5 1537.6 1050.3 1538.1 1049.8 1538.6 1050.3 1539.1 1052.4 1539.6 1055.9 1543.6 1099.2 1545.1 1110.3 1546.6 1117.6 1547.6 1120.9 1548.6 1123.4 1550.1 1125.9 1551.6 1127.6 1553.6 1129.0 1555.6 1129.9 1557.6 1130.4 1560.6 1130.8 1567.6 1131.1 1574.1 1131.0 1578.1 1130.3 1581.1 1129.2 1583.1 1127.6 1584.6 1125.7 1586.1 1123.1 1589.6 1115.4 1590.6 1114.1 1591.1 1113.9 1591.6 1113.9 1592.1 1114.2 1593.1 1115.6 1596.6 1123.4 1598.6 1126.6 1600.6 1128.6 1603.1 1130.0 1605.1 1130.6 1608.1 1131.1 1612.1 1131.3 1617.1 1131.3 1625.6 1130.8 1629.1 1130.2 1631.1 1129.6 1633.6 1128.3 1636.1 1126.4 1638.1 1124.1 1639.6 1121.7 1641.1 1118.5 1642.6 1114.6 1648.1 1096.2 1649.1 1094.0 1649.6 1093.3 1650.1 1092.9 1650.6 1092.9 1651.6 1093.7 1653.1 1096.9 1657.6 1111.7 1659.1 1115.8 1660.6 1119.1 1662.1 1121.5 1664.1 1123.8 1666.6 1125.6 1669.1 1126.6 1671.1 1127.0 1673.6 1127.3 1676.1 1127.2 1678.6 1127.0 1680.6 1126.5 1683.6 1125.4 1685.1 1124.5 1686.1 1123.6 1687.1 1122.3 1688.1 1120.6 1689.6 1116.9 1691.1 1111.8 1694.1 1099.3 1695.1 1096.6 1695.6 1096.0 1696.1 1095.9 1696.6 1096.3 1697.6 1098.7 1701.6 1115.7 1703.6 1121.8 1705.1 1124.8 1706.6 1126.9 1708.6 1128.7 1711.1 1130.0 1714.1 1131.0 1717.6 1131.4 1724.1 1131.7 1734.1 1131.8 1751.1 1131.7 1763.1 1131.4 1772.1 1130.8 1777.1 1130.1 1781.1 1129.0 1783.1 1128.0 1784.6 1127.0 1786.1 1125.8 1787.6 1124.2 1790.1 1120.4 1792.1 1116.1 1794.1 1110.3 1798.6 1093.6 1800.1 1088.7 1801.6 1085.5 1802.6 1084.8 1803.1 1084.8 1803.6 1085.1 1804.1 1085.7 1805.1 1087.6 1810.6 1104.4 1812.6 1108.6 1814.1 1110.3 1815.1 1110.8 1816.1 1110.7 1817.1 1110.0 1818.1 1108.9 1820.1 1105.3 1824.1 1096.2 1825.6 1094.2 1826.6 1093.8 1827.6 1094.3 1829.1 1096.5 1833.6 1107.8 1835.6 1111.8 1836.6 1113.1 1837.6 1113.8 1838.6 1114.0 1839.6 1113.4 1840.6 1112.1 1841.6 1110.0 1843.1 1105.0 1844.6 1098.0 1848.1 1078.1 1849.1 1074.3 1849.6 1073.2 1850.1 1072.8 1850.6 1073.0 1851.1 1074.5 1851.6 1076.9 1855.6 1108.8 1857.1 1117.1 1858.6 1122.6 1859.6 1125.2 1860.6 1127.1 1861.6 1128.5 1863.1 1130.0 1864.6 1131.0 1866.6 1131.9 1868.6 1132.4 1871.6 1132.9 1881.1 1133.6 1900.1 1134.0 1982.6 1133.2 1995.1 1132.9 2002.6 1132.3 2006.6 1131.7 2009.1 1131.1 2011.6 1130.1 2013.6 1128.7 2015.1 1127.3 2016.6 1125.5 2022.1 1116.8 2023.1 1115.8 2024.1 1115.4 2025.1 1115.5 2026.6 1116.9 2032.6 1126.6 2034.6 1129.0 2036.6 1130.6 2039.1 1132.0 2042.1 1133.1 2045.1 1133.7 2050.1 1134.1 2060.6 1134.4 2082.6 1134.5 2354.6 1134.6" stroke="#00B0F0"/>
<path d="M147.6 1420.7L222.6 1420.1 243.6 1419.7 249.6 1419.3 254.1 1418.5 257.6 1417.2 260.1 1415.4 261.6 1413.6 262.6 1411.9 263.6 1409.7 264.6 1406.8 266.1 1400.5 267.6 1390.9 269.1 1376.5 270.1 1363.6 273.6 1309.4 274.6 1301.1 275.1 1300.0 275.6 1301.1 276.6 1309.4 280.6 1370.3 281.6 1381.8 283.1 1394.5 284.6 1402.8 286.1 1408.2 287.1 1410.8 288.1 1412.7 289.6 1414.7 291.1 1416.1 292.6 1417.0 294.1 1417.7 298.1 1418.7 304.1 1419.3 313.6 1419.5 350.1 1419.4 380.6 1418.9 393.6 1418.3 397.1 1417.9 400.6 1417.1 402.6 1416.2 404.1 1414.7 405.1 1413.1 406.1 1410.6 407.6 1404.1 410.1 1385.7 410.6 1382.8 411.1 1381.2 411.6 1381.2 412.1 1382.8 414.6 1399.2 415.6 1403.9 416.1 1405.5 417.1 1407.4 418.1 1408.1 419.1 1407.8 420.6 1405.9 421.6 1403.6 422.6 1400.5 423.6 1396.2 424.6 1390.5 425.6 1382.7 427.1 1365.6 428.1 1348.8 429.1 1326.2 432.6 1215.6 433.1 1206.9 433.6 1203.8 434.1 1207.0 434.6 1215.8 438.1 1327.0 439.1 1349.7 440.1 1366.7 441.6 1384.2 443.1 1395.4 444.1 1400.7 445.6 1406.4 447.1 1410.3 448.1 1411.9 449.6 1413.7 451.6 1415.3 453.6 1416.2 456.1 1416.7 459.1 1416.6 461.6 1416.1 464.6 1414.7 466.1 1413.4 467.6 1410.9 469.1 1406.5 470.6 1399.1 472.6 1386.4 473.6 1382.5 474.1 1382.2 474.6 1383.0 475.1 1384.9 477.6 1400.3 478.6 1405.3 480.1 1410.3 481.6 1413.1 482.6 1414.2 484.1 1415.2 486.1 1415.9 488.1 1416.1 491.1 1415.9 493.6 1415.4 495.6 1414.5 497.1 1413.3 498.6 1411.5 500.1 1408.6 501.6 1404.1 502.6 1399.7 504.6 1386.6 507.6 1360.2 508.6 1355.0 509.1 1354.1 509.6 1354.5 510.1 1356.1 510.6 1358.9 514.1 1389.1 515.1 1396.0 516.1 1401.3 517.1 1405.4 518.6 1409.6 520.1 1412.3 522.1 1414.4 523.6 1415.4 525.6 1416.2 528.1 1416.8 531.1 1417.2 540.6 1417.7 554.1 1417.7 563.6 1417.2 570.6 1416.3 576.1 1414.9 578.1 1414.0 580.1 1412.9 581.6 1411.8 583.1 1410.3 585.6 1406.9 587.6 1402.5 589.1 1397.7 590.6 1390.7 591.6 1384.2 592.6 1375.4 593.6 1363.6 595.1 1336.5 596.1 1309.2 597.1 1271.4 599.6 1148.7 600.1 1134.9 600.6 1131.9 601.1 1150.0 603.1 1297.3 604.1 1341.3 605.1 1367.4 606.1 1383.2 607.6 1396.9 608.6 1402.4 609.6 1406.2 610.6 1409.0 612.1 1412.0 613.6 1414.0 615.1 1415.4 617.6 1417.0 620.1 1418.0 622.6 1418.6 626.1 1419.1 632.6 1419.5 641.6 1419.6 652.1 1419.3 661.1 1418.7 668.1 1417.8 673.1 1416.9 677.1 1415.7 680.6 1414.0 682.6 1412.7 684.1 1411.4 686.6 1408.5 688.1 1406.1 689.1 1404.0 691.1 1398.5 692.6 1392.5 694.1 1383.8 695.6 1370.9 696.6 1358.8 698.1 1331.9 699.6 1288.7 700.6 1247.2 703.1 1117.7 703.6 1102.3 704.1 1096.9 704.6 1111.6 706.1 1239.2 707.1 1305.4 708.1 1345.4 708.6 1358.7 709.6 1377.3 710.6 1389.0 711.6 1396.7 713.1 1404.0 714.6 1408.5 716.6 1412.2 717.6 1413.4 719.1 1414.8 722.1 1416.5 725.6 1417.6 730.6 1418.1 732.1 1417.9 733.6 1417.4 734.6 1416.7 735.6 1415.5 737.1 1412.2 738.1 1408.2 739.1 1401.8 740.1 1392.2 742.6 1360.6 743.1 1357.6 743.6 1357.3 744.1 1359.9 744.6 1364.8 747.1 1397.0 748.6 1408.3 749.6 1412.5 750.1 1413.9 751.1 1415.7 752.1 1416.5 753.1 1416.5 754.1 1415.6 754.6 1414.8 755.6 1412.1 756.1 1410.1 757.6 1400.1 758.6 1388.7 761.1 1351.1 761.6 1347.5 762.1 1347.3 762.6 1350.4 763.1 1356.3 765.1 1388.4 766.6 1405.1 767.6 1411.7 768.6 1415.9 770.1 1419.7 771.6 1421.6 773.1 1422.6 775.1 1423.2 777.6 1423.5 781.1 1423.6 797.1 1422.9 817.6 1421.5 826.1 1420.6 831.6 1419.5 833.1 1419.0 834.6 1418.2 836.1 1417.1 837.6 1415.7 839.6 1413.0 840.6 1410.9 841.6 1408.2 843.1 1402.1 844.6 1392.3 845.6 1382.7 846.6 1369.7 849.6 1315.1 850.6 1301.2 851.1 1297.6 851.6 1296.8 852.1 1298.5 853.1 1308.1 855.1 1332.1 855.6 1335.7 856.1 1337.5 856.6 1337.3 857.1 1335.1 858.1 1324.5 860.6 1279.7 861.1 1274.5 861.6 1272.8 862.1 1275.2 862.6 1281.1 865.1 1332.7 866.1 1348.6 866.6 1354.3 867.6 1361.5 868.1 1363.2 868.6 1363.8 869.1 1363.3 869.6 1361.8 870.1 1359.3 870.6 1355.8 871.6 1345.3 872.6 1329.7 873.6 1307.5 875.1 1258.5 877.6 1148.2 878.1 1132.4 878.6 1123.5 879.1 1123.7 879.6 1142.0 881.1 1247.9 882.1 1304.5 883.1 1340.7 884.1 1363.1 885.6 1382.1 886.6 1389.6 888.1 1396.5 889.6 1400.6 891.1 1403.2 893.1 1405.1 894.1 1405.7 895.6 1406.2 897.1 1406.3 898.1 1406.2 900.1 1405.6 901.1 1405.0 902.1 1404.0 903.1 1402.4 904.6 1398.2 905.6 1393.6 906.6 1386.9 910.1 1350.3 910.6 1347.2 911.1 1346.2 911.6 1347.1 912.1 1350.1 915.1 1381.5 916.6 1391.7 917.6 1395.6 918.1 1396.8 919.1 1398.1 919.6 1398.2 920.1 1398.0 920.6 1397.5 921.6 1395.3 923.1 1389.1 924.6 1377.8 926.1 1360.0 928.6 1324.2 929.1 1319.6 929.6 1317.1 930.1 1316.8 930.6 1319.0 931.6 1329.1 933.6 1358.8 935.1 1377.2 936.1 1385.8 937.6 1394.4 938.6 1398.0 939.6 1400.5 941.1 1402.6 942.6 1403.6 943.6 1403.7 944.6 1403.4 946.1 1402.4 947.6 1400.4 949.1 1397.1 950.6 1391.8 952.1 1383.1 953.1 1374.2 954.1 1361.6 955.6 1332.3 958.6 1246.1 959.1 1239.3 959.6 1238.9 960.1 1246.5 960.6 1260.7 962.6 1331.0 964.1 1364.7 965.1 1378.2 966.1 1387.3 967.1 1393.5 968.6 1399.4 970.1 1403.1 972.1 1406.0 974.6 1408.1 976.1 1408.8 978.1 1409.5 984.6 1410.9 986.1 1411.0 987.6 1410.8 989.1 1410.3 990.6 1409.1 991.6 1407.8 992.6 1405.8 993.6 1402.9 994.6 1398.7 995.6 1392.7 996.6 1384.1 998.1 1365.5 1000.6 1324.8 1001.6 1314.3 1002.1 1312.6 1002.6 1313.5 1003.6 1322.9 1007.1 1379.3 1008.1 1390.6 1009.6 1402.1 1010.6 1407.3 1011.6 1411.0 1012.6 1413.7 1014.1 1416.6 1015.6 1418.6 1016.6 1419.4 1018.6 1420.2 1021.1 1420.8 1025.6 1421.1 1033.1 1421.0 1053.6 1420.0 1066.1 1419.0 1071.6 1419.2 1074.6 1418.6 1076.6 1417.6 1078.1 1416.3 1079.6 1414.2 1081.1 1410.8 1082.1 1407.6 1084.1 1398.4 1087.6 1377.5 1088.6 1374.2 1089.1 1373.7 1089.6 1374.1 1090.6 1377.1 1091.6 1382.5 1094.6 1401.9 1095.6 1407.1 1097.1 1412.9 1098.6 1417.0 1100.1 1419.8 1101.6 1421.7 1103.6 1423.3 1105.1 1424.0 1106.6 1424.2 1108.6 1424.0 1110.1 1423.5 1111.6 1422.6 1113.1 1421.1 1114.1 1419.6 1115.1 1417.6 1116.6 1413.3 1117.6 1409.1 1118.6 1403.9 1121.6 1385.2 1122.6 1381.4 1123.1 1380.8 1123.6 1381.0 1124.1 1382.1 1124.6 1384.0 1127.6 1402.0 1129.1 1409.5 1130.6 1414.4 1131.6 1416.5 1132.6 1417.8 1133.6 1418.5 1134.6 1418.5 1135.6 1418.0 1136.6 1416.8 1137.6 1414.8 1138.6 1412.0 1141.1 1403.2 1142.1 1401.1 1142.6 1400.9 1143.1 1401.2 1144.1 1403.4 1146.6 1412.6 1148.1 1416.9 1149.6 1419.6 1151.1 1421.3 1152.6 1422.2 1154.1 1422.7 1158.1 1423.1 1162.6 1422.8 1164.6 1422.3 1166.1 1421.6 1167.6 1420.7 1169.1 1419.2 1170.1 1417.8 1171.1 1415.9 1172.6 1411.8 1174.1 1405.2 1175.1 1399.0 1176.1 1390.8 1179.6 1352.5 1180.6 1345.3 1181.1 1343.9 1181.6 1344.0 1182.1 1345.8 1182.6 1349.0 1186.1 1387.1 1187.1 1396.0 1188.1 1403.0 1189.1 1408.3 1190.6 1413.7 1191.6 1416.2 1192.6 1418.1 1194.6 1420.5 1196.6 1421.8 1199.1 1422.8 1202.6 1423.4 1207.1 1423.8 1214.6 1423.9 1222.6 1423.7 1230.1 1423.0 1233.6 1422.9 1236.6 1422.3 1239.6 1421.0 1241.1 1419.9 1242.6 1418.5 1245.1 1415.1 1250.6 1405.7 1252.1 1404.1 1253.1 1403.8 1253.6 1403.9 1254.6 1404.5 1256.1 1406.5 1262.6 1419.7 1264.6 1422.8 1266.6 1425.2 1268.6 1427.0 1270.6 1428.3 1274.1 1429.3 1278.1 1429.8 1283.6 1430.0 1291.6 1429.8 1303.6 1429.3 1311.6 1428.7 1315.1 1428.2 1317.6 1427.5 1319.6 1426.4 1321.1 1425.1 1322.6 1422.8 1323.6 1420.4 1324.6 1417.0 1325.6 1411.9 1327.1 1400.5 1329.6 1376.4 1330.1 1373.7 1330.6 1372.8 1331.1 1373.6 1331.6 1376.2 1334.6 1404.1 1335.6 1411.0 1336.6 1415.9 1337.6 1419.1 1339.1 1422.1 1340.6 1423.7 1342.6 1424.7 1345.1 1425.0 1348.1 1424.6 1350.6 1423.5 1352.6 1421.8 1354.1 1419.7 1355.1 1417.8 1359.1 1406.7 1360.1 1405.1 1360.6 1404.9 1361.1 1405.0 1362.1 1406.4 1365.1 1414.5 1366.6 1417.7 1368.1 1419.8 1369.6 1421.1 1371.1 1421.8 1372.6 1422.1 1376.1 1421.8 1378.6 1421.0 1380.1 1420.1 1381.1 1419.2 1382.6 1417.2 1384.1 1414.3 1385.1 1411.5 1386.1 1407.9 1388.1 1397.8 1391.6 1375.4 1392.6 1372.2 1393.1 1371.7 1393.6 1372.2 1394.6 1375.4 1398.6 1400.6 1400.6 1409.7 1402.1 1414.1 1403.6 1417.1 1405.6 1419.5 1407.6 1420.8 1410.6 1421.8 1412.6 1422.0 1414.6 1421.9 1417.1 1421.3 1419.1 1419.8 1420.6 1417.6 1421.6 1415.4 1422.6 1412.5 1425.1 1403.5 1426.1 1401.2 1426.6 1400.9 1427.1 1401.1 1428.1 1403.1 1431.1 1413.9 1432.6 1417.8 1434.1 1420.4 1436.1 1422.3 1438.1 1423.3 1440.1 1423.8 1444.1 1424.6 1449.1 1425.2 1454.6 1425.7 1458.6 1425.9 1461.6 1425.7 1463.6 1425.2 1465.1 1424.3 1466.6 1422.8 1468.1 1420.3 1469.1 1417.8 1470.6 1412.2 1473.6 1396.5 1474.6 1393.3 1475.1 1392.9 1475.6 1393.3 1476.6 1396.5 1479.1 1409.7 1480.6 1416.0 1482.1 1420.1 1483.6 1422.5 1484.6 1423.5 1486.1 1424.6 1488.1 1425.3 1490.1 1425.7 1493.1 1425.9 1496.6 1425.8 1499.6 1425.5 1502.1 1425.0 1504.1 1424.0 1506.1 1422.5 1507.6 1420.6 1508.6 1418.8 1510.6 1413.5 1514.1 1399.9 1515.1 1397.4 1515.6 1396.9 1516.1 1396.9 1516.6 1397.5 1517.1 1398.5 1520.6 1410.0 1521.6 1412.3 1522.6 1413.9 1523.6 1414.7 1524.1 1414.8 1525.1 1414.6 1526.6 1413.1 1527.6 1411.3 1528.6 1408.7 1529.6 1405.1 1531.1 1397.9 1532.6 1387.8 1536.1 1358.9 1537.1 1353.1 1537.6 1351.5 1538.1 1350.8 1538.6 1351.0 1539.1 1352.3 1540.1 1357.3 1544.6 1393.0 1546.1 1401.6 1548.1 1409.3 1550.1 1413.9 1551.6 1416.1 1553.1 1417.6 1554.6 1418.6 1556.6 1419.4 1562.6 1420.4 1567.1 1420.5 1569.1 1420.3 1571.1 1419.9 1572.6 1419.3 1574.1 1418.3 1576.1 1416.3 1577.6 1413.9 1579.1 1410.5 1581.1 1403.9 1584.1 1391.9 1585.1 1389.1 1585.6 1388.3 1586.1 1387.9 1586.6 1388.0 1587.1 1388.5 1588.1 1390.9 1592.6 1408.5 1594.1 1412.9 1596.1 1416.9 1598.1 1419.4 1600.6 1421.2 1603.6 1422.4 1608.1 1423.4 1613.1 1424.0 1620.1 1424.5 1636.6 1425.1 1640.6 1425.0 1643.6 1424.7 1646.1 1424.1 1648.1 1423.4 1649.6 1422.5 1651.1 1421.3 1652.6 1419.5 1653.6 1418.0 1655.1 1414.9 1656.1 1412.4 1659.6 1401.5 1660.6 1398.9 1661.6 1397.3 1662.1 1396.9 1662.6 1396.9 1663.6 1397.9 1664.6 1400.0 1669.1 1414.0 1670.1 1416.5 1671.6 1419.4 1673.1 1421.5 1674.6 1423.1 1676.6 1424.4 1679.1 1425.4 1682.1 1425.9 1684.6 1425.7 1686.6 1424.9 1688.6 1423.2 1690.1 1421.1 1691.1 1419.1 1695.1 1408.7 1696.1 1407.1 1696.6 1406.9 1697.1 1406.9 1697.6 1407.4 1698.6 1409.3 1702.1 1419.4 1704.1 1423.7 1705.1 1425.2 1706.6 1426.9 1708.1 1428.1 1709.6 1428.7 1712.1 1429.3 1715.6 1429.7 1726.6 1429.7 1743.6 1428.8 1758.6 1427.3 1764.1 1426.2 1768.6 1424.7 1772.6 1422.7 1776.1 1420.2 1779.6 1416.9 1782.6 1413.2 1785.6 1408.9 1791.1 1400.3 1793.6 1396.9 1796.1 1394.6 1797.6 1394.0 1798.6 1393.8 1799.6 1394.0 1801.1 1394.7 1803.6 1397.1 1806.1 1400.6 1814.1 1413.2 1817.1 1417.0 1820.1 1420.1 1823.1 1422.4 1826.6 1424.2 1830.1 1425.1 1833.1 1425.0 1834.6 1424.5 1836.1 1423.7 1837.6 1422.2 1838.6 1420.8 1839.6 1419.0 1840.6 1416.6 1842.1 1411.5 1843.6 1404.2 1844.6 1397.9 1848.6 1365.7 1849.6 1360.1 1850.1 1358.5 1850.6 1357.9 1851.1 1358.2 1851.6 1359.5 1852.6 1364.6 1857.1 1400.7 1858.6 1409.4 1860.6 1417.3 1862.6 1422.2 1863.6 1423.8 1865.1 1425.7 1866.6 1427.0 1868.6 1428.1 1870.6 1428.9 1872.6 1429.3 1876.1 1429.6 1880.1 1429.7 1887.6 1429.6 1900.1 1429.0 1988.1 1429.6 1999.1 1429.3 2006.1 1428.6 2009.1 1427.7 2011.6 1426.3 2013.6 1424.4 2015.1 1422.3 2016.6 1419.3 2017.6 1416.9 2021.6 1403.9 2022.6 1401.2 2023.6 1399.5 2024.1 1399.1 2024.6 1399.1 2025.6 1400.1 2026.6 1402.3 2031.1 1417.0 2032.6 1420.7 2034.6 1424.2 2035.6 1425.5 2037.1 1426.9 2039.6 1428.5 2043.1 1429.7 2047.6 1430.4 2053.1 1430.7 2057.6 1430.6 2061.1 1430.1 2064.1 1429.2 2066.1 1428.1 2067.6 1426.9 2069.6 1424.7 2073.6 1419.4 2074.6 1418.6 2075.6 1418.4 2079.6 1418.7 2083.6 1419.6 2101.1 1425.4 2106.1 1426.8 2111.6 1428.0 2117.6 1429.0 2124.6 1429.8 2141.6 1431.1 2161.6 1431.9 2190.1 1432.5 2354.6 1433.0" stroke="#000000"/>
</g>
<g class="markers">
<use href="#star" transform="translate(277.6 355.9)"/>
<path class="tr" style="stroke-width:6.0" d="M437.5 333.6L449.6 360.9L425.4 360.9Z"/>
<use href="#star" transform="translate(511.3 399.3)"/>
<use href="#star" transform="translate(602.5 282.8)"/>
<ellipse cx="708.9" cy="288.4" rx="16.7" ry="13.0"/>
<use href="#star" transform="translate(763.8 383.6)"/>
<use href="#star" transform="translate(846.6 272.9)"/>
<path class="fd" d="M847.8 304.1L861.3 323.6L847.8 343.1L834.3 323.6Z"/>
<path class="fd" d="M881.2 133.6L894.7 153.1L881.2 172.6L867.7 153.1Z"/>
<path class="od" style="stroke-width:6.0" d="M959.0 107.9L968.7 122.3L959.0 136.7L949.3 122.3Z"/>
<path class="fd" d="M960.8 154.0L974.3 173.5L960.8 193.0L947.3 173.5Z"/>
<path class="oc" d="M989.5 342.1a15.8 15.6 0 1 0 31.6 0a15.8 15.6 0 1 0 -31.6 0ZM995.4 342.1a9.9 7.6 0 1 0 19.8 0a9.9 7.6 0 1 0 -19.8 0Z"/>
<path class="fd" d="M1124.7 363.2L1138.2 382.7L1124.7 402.2L1111.2 382.7Z"/>
<path class="oc" d="M1187.2 293.3a15.8 15.6 0 1 0 31.6 0a15.8 15.6 0 1 0 -31.6 0ZM1193.1 293.3a9.9 7.6 0 1 0 19.8 0a9.9 7.6 0 1 0 -19.8 0Z"/>
<ellipse cx="1333.5" cy="369.2" rx="17.0" ry="14.0"/>
<path class="fd" d="M1394.2 364.8L1407.7 384.3L1394.2 403.8L1380.7 384.3Z"/>
<path class="fd" d="M1541.7 344.2L1555.2 363.7L1541.7 383.2L1528.2 363.7Z"/>
<use href="#star" transform="translate(1591.8 413.3)"/>
<path class="od" style="stroke-width:6.0" d="M1647.1 384.1L1656.8 398.5L1647.1 412.9L1637.4 398.5Z"/>
<path class="oc" d="M1803.6 289.1a16.0 15.2 0 1 0 32.0 0a16.0 15.2 0 1 0 -32.0 0ZM1809.7 289.1a9.9 7.6 0 1 0 19.8 0a9.9 7.6 0 1 0 -19.8 0Z"/>
<path class="od" style="stroke-width:6.0" d="M1821.2 322.2L1830.9 336.6L1821.2 351.0L1811.5 336.6Z"/>
<path class="fd" d="M1797.1 626.1L1810.6 645.6L1797.1 665.1L1783.6 645.6Z"/>
<path class="fd" d="M1851.2 625.1L1864.7 644.6L1851.2 664.1L1837.7 644.6Z"/>
<path class="fd" d="M1000.8 1246.5L1014.8 1265.0L1000.8 1283.5L986.8 1265.0Z"/>
<use href="#star" transform="translate(1475.1 1352.2)"/>
<path class="fd" d="M182.4 64.3L196.4 83.8L182.4 103.3L168.4 83.8Z"/>
<path class="od" style="stroke-width:5.6" d="M458.4 67.6L468.8 82.7L458.4 97.8L448.0 82.7Z"/>
<path class="oc" d="M789.0 79.6a16.1 15.2 0 1 0 32.1 0a16.1 15.2 0 1 0 -32.1 0ZM795.8 79.6a9.2 8.3 0 1 0 18.5 0a9.2 8.3 0 1 0 -18.5 0Z"/>
<path class="tr" style="stroke-width:6.0" d="M1041.8 67.3L1053.3 93.0L1030.2 93.0Z"/>
<ellipse cx="1393.1" cy="82.7" rx="17.4" ry="13.3"/>
<use href="#star" transform="translate(1725.7 77.5)"/>
</g>
<!-- frame -->
<rect x="147.6" y="33.3" width="2207.1" height="1429.1" fill="none" stroke="#000" stroke-width="6.2"/>
<g stroke="#000" stroke-width="5">
<path d="M147.6 1462V1480M462.9 1462V1480M778.2 1462V1480M1093.5 1462V1480M1408.8 1462V1480M1724.1 1462V1480M2039.4 1462V1480M2354.7 1462V1480"/>
<path d="M305.25 1462V1475M620.55 1462V1475M935.85 1462V1475M1251.15 1462V1475M1566.45 1462V1475M1881.75 1462V1475M2197.05 1462V1475"/>
</g>
<g font-size="58" text-anchor="middle">
<text x="147.6" y="1557">10</text><text x="462.9" y="1557">20</text><text x="778.2" y="1557">30</text><text x="1093.5" y="1557">40</text>
<text x="1408.8" y="1557">50</text><text x="1724.1" y="1557">60</text><text x="2039.4" y="1557">70</text><text x="2354.7" y="1557">80</text>
</g>
<text x="1161" y="1661.5" font-size="78">2θ [<tspan font-size="61" dx="2.9" dy="-11.6">°</tspan><tspan dx="2.9" dy="11.6">]</tspan></text>
<text transform="translate(74 1036.9) rotate(-90)" x="0" y="0" font-size="76" letter-spacing="0.97">Intensity [a.u]</text>
<g font-size="58.6">
<text x="213.8" y="102.6" letter-spacing="1.7">Fe<tspan font-size="38.5" dy="5.8">2</tspan><tspan dy="-5.8">O</tspan><tspan font-size="38.5" dy="5.8">3</tspan></text>
<text x="494" y="102.7" letter-spacing="1.6">NiFe<tspan font-size="38.5" dy="5.8">2</tspan><tspan dy="-5.8">O</tspan><tspan font-size="38.5" dy="5.8">4</tspan></text>
<text x="833.3" y="99" letter-spacing="2.2">NiO</text>
<text x="1080.8" y="95.1" letter-spacing="1.4">Al<tspan font-size="38.5" dy="5.8">2</tspan><tspan dy="-5.8">O</tspan><tspan font-size="38.5" dy="5.8">3</tspan></text>
<text x="1429.2" y="98.1" letter-spacing="2.2">TiO<tspan font-size="38.5" dy="6.2">2</tspan></text>
<text x="1762.4" y="97.8" letter-spacing="1.41">Aluminosilicates</text>
</g>
<g font-size="59.5" text-anchor="end">
<text x="2338.5" y="441.4" letter-spacing="0.67">20Ni-PRM</text>
<text x="2339.5" y="713.9" letter-spacing="0.63">15Ni-PRM</text>
<text x="2336" y="1108.4" letter-spacing="0.63">10Ni-PRM</text>
<text x="2323.7" y="1396.6" letter-spacing="2.3">PRM</text>
</g>
</svg>
</body></html>
